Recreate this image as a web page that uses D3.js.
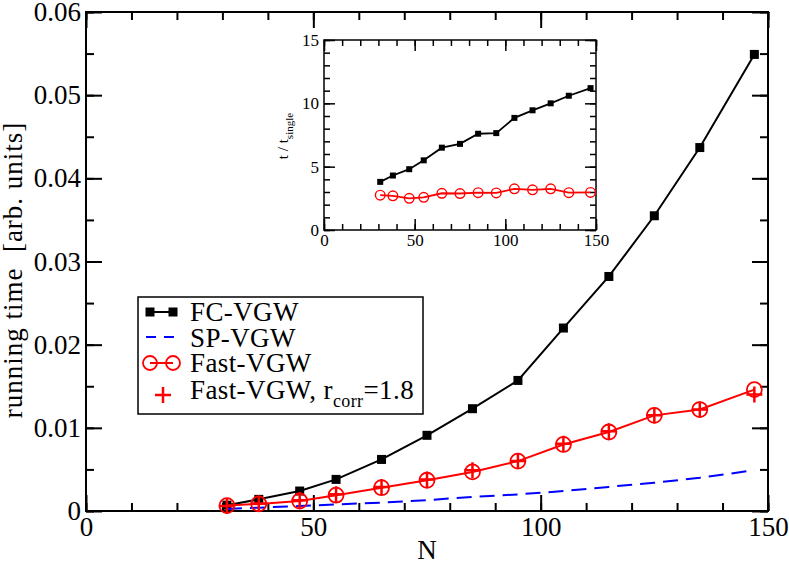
<!DOCTYPE html>
<meta charset="utf-8">
<script src="https://d3js.org/d3.v7.min.js"></script>
<style>
  body { margin: 0; background: #fff; }
  text { font-family: "Liberation Serif", "DejaVu Serif", serif; }
</style>
<div id="my_dataviz"></div>
<script>

// ---- data ----
var N = [31, 38, 47, 55, 65, 75, 85, 95, 105, 115, 125, 135, 147];
var fcVGW = [0.0007, 0.0014, 0.0024, 0.0038, 0.0062, 0.0091, 0.0123, 0.0157, 0.0220, 0.0282, 0.0355, 0.0437, 0.0549];
var spVGW = [0.00025, 0.0004, 0.0006, 0.0008, 0.0010, 0.0013, 0.0017, 0.0020, 0.0024, 0.0029, 0.0034, 0.0040, 0.0049];
var fastVGW = [0.00065, 0.00085, 0.0012, 0.0019, 0.0028, 0.0037, 0.0047, 0.0060, 0.0080, 0.0095, 0.0115, 0.0122, 0.0146];
var fastVGWcorr = [0.0006, 0.0009, 0.0013, 0.0020, 0.0029, 0.0038, 0.0049, 0.0060, 0.0081, 0.0096, 0.0115, 0.0122, 0.0140];

// inset: t / t_single
var insetFC = [3.8, 4.3, 4.8, 5.5, 6.5, 6.8, 7.6, 7.65, 8.85, 9.45, 10.0, 10.6, 11.2];
var insetFast = [2.75, 2.7, 2.5, 2.58, 2.9, 2.88, 2.95, 2.93, 3.25, 3.17, 3.25, 2.95, 2.97];

var xTicks = [0, 50, 100, 150];
var yTicks = [0, 0.01, 0.02, 0.03, 0.04, 0.05, 0.06];
var insetYTicks = [0, 5, 10, 15];

var legendLabels = ["FC-VGW", "SP-VGW", "Fast-VGW", "Fast-VGW, r"];

var svg = d3.select("#my_dataviz")
  .append("svg")
    .attr("width", 789)
    .attr("height", 564);

// scales
var x = d3.scaleLinear().domain([0, 150]).range([86, 768]);
var y = d3.scaleLinear().domain([0, 0.06]).range([511, 12]);

var xi = d3.scaleLinear().domain([0, 150]).range([324, 596]);
var yi = d3.scaleLinear().domain([0, 15]).range([230, 40]);

// draws the four sides of a frame with inward ticks
function frame(g, sx, sy, major, minor, yMajor, yMinor, fs, pad) {
  var x0 = sx.range()[0], x1 = sx.range()[1];
  var y0 = sy.range()[0], y1 = sy.range()[1];
  var fmt = function(d) { return d === 0 ? "0" : String(d); };

  // minor ticks
  g.append("g").attr("transform", "translate(0," + y0 + ")")
    .call(d3.axisBottom(sx).tickValues(d3.range(sx.domain()[0], sx.domain()[1] + 0.001, minor[0])).tickSizeInner(-minor[1]).tickSizeOuter(0).tickFormat(""));
  g.append("g").attr("transform", "translate(0," + y1 + ")")
    .call(d3.axisTop(sx).tickValues(d3.range(sx.domain()[0], sx.domain()[1] + 0.001, minor[0])).tickSizeInner(-minor[1]).tickSizeOuter(0).tickFormat(""));
  g.append("g").attr("transform", "translate(" + x0 + ",0)")
    .call(d3.axisLeft(sy).tickValues(yMinor).tickSizeInner(-minor[1]).tickSizeOuter(0).tickFormat(""));
  g.append("g").attr("transform", "translate(" + x1 + ",0)")
    .call(d3.axisRight(sy).tickValues(yMinor).tickSizeInner(-minor[1]).tickSizeOuter(0).tickFormat(""));

  // major ticks with labels
  g.append("g").attr("class", "lab").attr("transform", "translate(0," + y0 + ")")
    .call(d3.axisBottom(sx).tickValues(major[0]).tickSizeInner(-major[1]).tickSizeOuter(0).tickPadding(pad[0]).tickFormat(fmt));
  g.append("g").attr("transform", "translate(0," + y1 + ")")
    .call(d3.axisTop(sx).tickValues(major[0]).tickSizeInner(-major[1]).tickSizeOuter(0).tickFormat(""));
  g.append("g").attr("class", "lab").attr("transform", "translate(" + x0 + ",0)")
    .call(d3.axisLeft(sy).tickValues(yMajor).tickSizeInner(-major[1]).tickSizeOuter(0).tickPadding(pad[1]).tickFormat(fmt));
  g.append("g").attr("transform", "translate(" + x1 + ",0)")
    .call(d3.axisRight(sy).tickValues(yMajor).tickSizeInner(-major[1]).tickSizeOuter(0).tickFormat(""));

  g.selectAll(".domain").remove();
  g.selectAll(".tick line").attr("stroke", "#000").attr("stroke-width", major[2]);
  g.selectAll(".lab text")
    .attr("font-size", fs)
    .attr("fill", "#000");

  g.append("rect")
    .attr("x", x0).attr("y", y1)
    .attr("width", x1 - x0).attr("height", y0 - y1)
    .attr("fill", "none").attr("stroke", "#000").attr("stroke-width", major[2]);
}

// ---- main plot ----
var main = svg.append("g");
frame(main, x, y, [xTicks, 16, 2], [10, 8], yTicks,
      d3.range(0, 0.0601, 0.005), 27, [6, 5]);

var idx = d3.range(N.length);

var line = function(vals, sx, sy) {
  return d3.line().x(function(i) { return sx(N[i]); }).y(function(i) { return sy(vals[i]); })(idx);
};

// FC-VGW
main.append("path").attr("d", line(fcVGW, x, y))
  .attr("fill", "none").attr("stroke", "#000").attr("stroke-width", 2);
main.selectAll(".sq").data(idx).enter().append("rect")
  .attr("x", function(i) { return x(N[i]) - 4.5; })
  .attr("y", function(i) { return y(fcVGW[i]) - 4.5; })
  .attr("width", 9).attr("height", 9).attr("fill", "#000");

// SP-VGW
main.append("path").attr("d", line(spVGW, x, y))
  .attr("fill", "none").attr("stroke", "#0000ff").attr("stroke-width", 2)
  .attr("stroke-dasharray", "15,8");

// Fast-VGW
main.append("path").attr("d", line(fastVGW, x, y))
  .attr("fill", "none").attr("stroke", "#ff0000").attr("stroke-width", 2);
main.selectAll(".ci").data(idx).enter().append("circle")
  .attr("cx", function(i) { return x(N[i]); })
  .attr("cy", function(i) { return y(fastVGW[i]); })
  .attr("r", 7.5).attr("fill", "none").attr("stroke", "#ff0000").attr("stroke-width", 1.8);

// Fast-VGW r_corr = 1.8
main.selectAll(".cr").data(idx).enter().append("path")
  .attr("d", function(i) {
    var cx = x(N[i]), cy = y(fastVGWcorr[i]);
    return "M" + (cx - 8) + "," + cy + "h16M" + cx + "," + (cy - 8) + "v16";
  })
  .attr("fill", "none").attr("stroke", "#ff0000").attr("stroke-width", 2.5);

// axis titles
svg.append("text")
  .attr("x", 427).attr("y", 559)
  .attr("text-anchor", "middle")
  .attr("font-size", 27)
  .text("N");

svg.append("text")
  .attr("transform", "translate(22,270) rotate(-90)")
  .attr("text-anchor", "middle")
  .attr("font-size", 27)
  .style("white-space", "pre")
  .style("letter-spacing", "1px")
  .text("running time  [arb. units]");

// ---- legend ----
var leg = svg.append("g");
leg.append("rect")
  .attr("x", 138).attr("y", 297).attr("width", 285).attr("height", 117)
  .attr("fill", "#fff").attr("stroke", "#000").attr("stroke-width", 1.5);

var rowY = [312, 337, 363, 395];
var baseY = [321, 347, 372, 399];

leg.append("line").attr("x1", 150).attr("x2", 173).attr("y1", rowY[0]).attr("y2", rowY[0])
  .attr("stroke", "#000").attr("stroke-width", 2);
leg.selectAll(".lsq").data([150, 173]).enter().append("rect")
  .attr("x", function(d) { return d - 4.5; }).attr("y", rowY[0] - 4.5)
  .attr("width", 9).attr("height", 9).attr("fill", "#000");

leg.append("line").attr("x1", 146).attr("x2", 178).attr("y1", rowY[1]).attr("y2", rowY[1])
  .attr("stroke", "#0000ff").attr("stroke-width", 2).attr("stroke-dasharray", "10,8");

leg.append("line").attr("x1", 150).attr("x2", 173).attr("y1", rowY[2]).attr("y2", rowY[2])
  .attr("stroke", "#ff0000").attr("stroke-width", 2);
leg.selectAll(".lci").data([150, 173]).enter().append("circle")
  .attr("cx", function(d) { return d; }).attr("cy", rowY[2])
  .attr("r", 7).attr("fill", "none").attr("stroke", "#ff0000").attr("stroke-width", 1.8);

leg.append("path")
  .attr("d", "M155," + rowY[3] + "h16M163," + (rowY[3] - 8) + "v16")
  .attr("stroke", "#ff0000").attr("stroke-width", 2.5);

leg.selectAll(".lt").data(legendLabels).enter().append("text")
  .attr("x", 190).attr("y", function(d, i) { return baseY[i]; })
  .attr("font-size", 27)
  .style("letter-spacing", "0.4px")
  .each(function(d, i) {
    var t = d3.select(this);
    t.append("tspan").text(d);
    if (i === 3) {
      t.append("tspan").attr("font-size", 18).attr("dy", 8).text("corr");
      t.append("tspan").attr("dy", -8).text("=1.8");
    }
  });

// ---- inset ----
var inset = svg.append("g");
inset.append("rect")
  .attr("x", 324).attr("y", 40).attr("width", 272).attr("height", 190)
  .attr("fill", "#fff");
frame(inset, xi, yi, [xTicks, 11, 1.5], [10, 6], insetYTicks,
      d3.range(0, 15.01, 1), 17, [4, 5]);

var lineI = function(vals) {
  return d3.line().x(function(i) { return xi(N[i]); }).y(function(i) { return yi(vals[i]); })(idx);
};

inset.append("path").attr("d", lineI(insetFC))
  .attr("fill", "none").attr("stroke", "#000").attr("stroke-width", 1.8);
inset.selectAll(".isq").data(idx).enter().append("rect")
  .attr("x", function(i) { return xi(N[i]) - 3; })
  .attr("y", function(i) { return yi(insetFC[i]) - 3; })
  .attr("width", 6).attr("height", 6).attr("fill", "#000");

inset.append("path").attr("d", lineI(insetFast))
  .attr("fill", "none").attr("stroke", "#ff0000").attr("stroke-width", 1.8);
inset.selectAll(".ici").data(idx).enter().append("circle")
  .attr("cx", function(i) { return xi(N[i]); })
  .attr("cy", function(i) { return yi(insetFast[i]); })
  .attr("r", 4.8).attr("fill", "none").attr("stroke", "#ff0000").attr("stroke-width", 1.4);

var il = svg.append("text")
  .attr("transform", "translate(288,136) rotate(-90)")
  .attr("text-anchor", "middle")
  .attr("font-size", 15);
il.append("tspan").text("t / t");
il.append("tspan").attr("font-size", 11).attr("dy", 5).text("single");

</script>
